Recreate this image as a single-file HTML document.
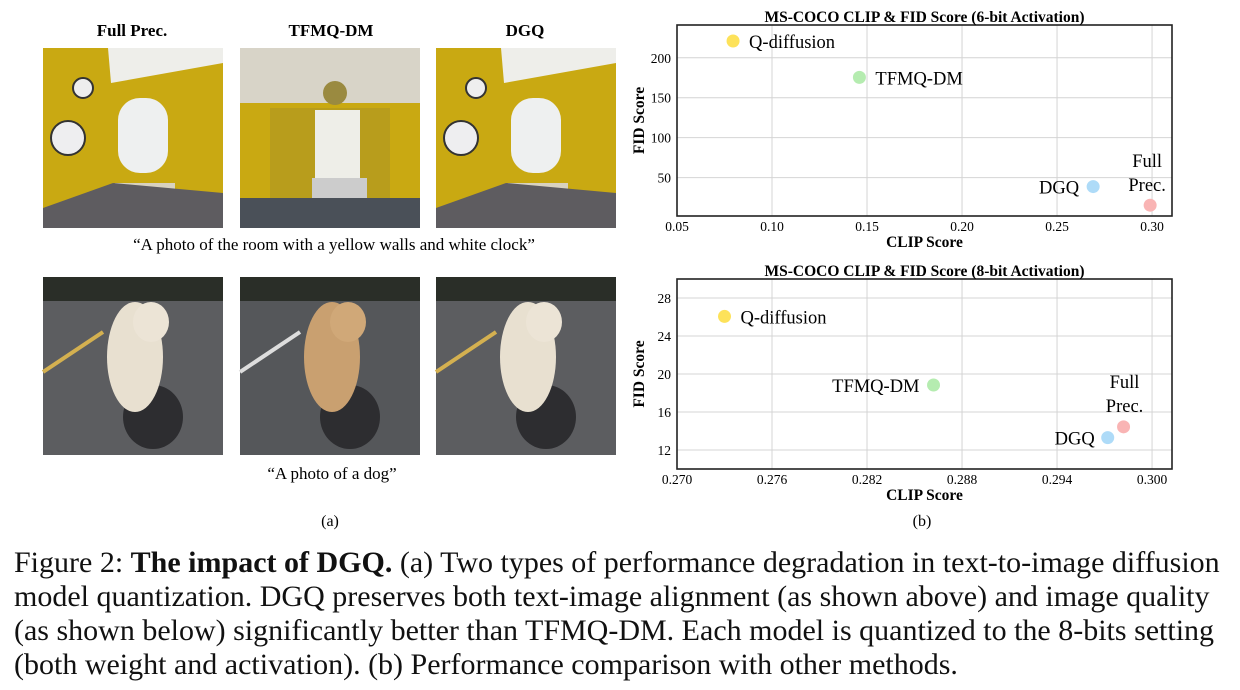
<!DOCTYPE html>
<html><head><meta charset="utf-8"><style>
body{margin:0;background:#fff;width:1240px;height:690px;overflow:hidden;font-family:"Liberation Serif",serif}
svg{position:absolute;left:0;top:0}
.cap{position:absolute;left:14px;top:546px;font-size:30px;line-height:34px;color:#111;white-space:nowrap}
</style></head><body>
<svg width="1240" height="690" font-family="Liberation Serif, serif">
<g id="photos">
 <text x="132" y="36" font-size="17" font-weight="bold" text-anchor="middle">Full Prec.</text>
 <text x="331" y="36" font-size="17" font-weight="bold" text-anchor="middle">TFMQ-DM</text>
 <text x="525" y="36" font-size="17" font-weight="bold" text-anchor="middle">DGQ</text>
 <text x="334" y="250" font-size="17" text-anchor="middle">“A photo of the room with a yellow walls and white clock”</text>
 <text x="332" y="479" font-size="17" text-anchor="middle">“A photo of a dog”</text>
 <text x="330" y="526" font-size="16" text-anchor="middle">(a)</text>
 <text x="922" y="526" font-size="16" text-anchor="middle">(b)</text>
</g>
</svg>
<div class="cap">Figure 2: <b>The impact of DGQ.</b> (a) Two types of performance degradation in text-to-image diffusion<br>model quantization. DGQ preserves both text-image alignment (as shown above) and image quality<br>(as shown below) significantly better than TFMQ-DM. Each model is quantized to the 8-bits setting<br>(both weight and activation). (b) Performance comparison with other methods.</div>
<script>
const NS='http://www.w3.org/2000/svg';
const svg=document.querySelector('svg');
function el(t,a,p){const e=document.createElementNS(NS,t);for(const k in a)e.setAttribute(k,a[k]);(p||svg).appendChild(e);return e;}
const roomX=[43,240,436];
roomX.forEach((x,i)=>{
 const g=el('g',{});
 
 
 const y=48,w=180,h=180;
 el('rect',{x:x,y:y,width:w,height:h,fill:'#c9a912'},g);
 if(i===1){
  el('rect',{x:x,y:y,width:w,height:55,fill:'#d8d4c8'},g);
  el('rect',{x:x+30,y:y+60,width:120,height:90,fill:'#b89d1c'},g);
  el('rect',{x:x+75,y:y+62,width:45,height:70,fill:'#eeeee8'},g);
  el('rect',{x:x+72,y:y+130,width:55,height:22,fill:'#ccc'},g);
  el('rect',{x:x,y:y+150,width:w,height:30,fill:'#4a5058'},g);
  el('circle',{cx:x+95,cy:y+45,r:12,fill:'#9a8a40'},g);
 } else {
  el('polygon',{points:`${x+65},${y} ${x+w},${y} ${x+w},${y+15} ${x+68},${y+35}`,fill:'#eeeeea'},g);
  el('rect',{x:x+75,y:y+50,width:50,height:75,rx:22,fill:'#eef0f0'},g);
  el('rect',{x:x+72,y:y+135,width:60,height:30,fill:'#d8d2c0'},g);
  el('polygon',{points:`${x},${y+h} ${x},${y+160} ${x+70},${y+135} ${x+w},${y+145} ${x+w},${y+h}`,fill:'#5e5c60'},g);
  el('circle',{cx:x+25,cy:y+90,r:17,fill:'#eeeef0',stroke:'#333','stroke-width':2},g);
  el('circle',{cx:x+40,cy:y+40,r:10,fill:'#eee',stroke:'#333','stroke-width':2},g);
 }
});
roomX.forEach((x,i)=>{
 const g=el('g',{});
 
 
 const y=277,w=180,h=178;
 el('rect',{x:x,y:y,width:w,height:h,fill:i===1?'#55575a':'#5c5d60'},g);
 el('rect',{x:x,y:y,width:w,height:24,fill:'#2a2e28'},g);
 el('line',{x1:x,y1:y+95,x2:x+60,y2:y+55,stroke:i===1?'#ddd':'#d4b050','stroke-width':4},g);
 el('ellipse',{cx:x+110,cy:y+140,rx:30,ry:32,fill:'#2d2d30'},g);
 el('ellipse',{cx:x+92,cy:y+80,rx:28,ry:55,fill:i===1?'#c9a070':'#e8e0d0'},g);
 el('ellipse',{cx:x+108,cy:y+45,rx:18,ry:20,fill:i===1?'#d0a878':'#ece4d6'},g);
});
// charts
const methods=['Q-diffusion','TFMQ-DM','DGQ','Full Prec.'];
const colors=['#fde25a','#b5ecb0','#aedbf8','#f9b4b4'];
const clip6=[0.0795,0.146,0.269,0.299];
const fid6=[221,175.5,38.8,15.5];
const clip8=[0.2730,0.2862,0.2972,0.2982];
const fid8=[26.06,18.84,13.3,14.44];
const xt6=[0.05,0.10,0.15,0.20,0.25,0.30];
const yt6=[50,100,150,200];
const xt8=[0.270,0.276,0.282,0.288,0.294,0.300];
const yt8=[12,16,20,24,28];
function chart(o){
 const g=el('g',{});
 
 
 const L=677,R=1172,T=o.top,B=o.bottom;
 const sx=v=>L+(v-o.xd[0])/(o.xd[1]-o.xd[0])*(R-L);
 const sy=v=>B-(v-o.yd[0])/(o.yd[1]-o.yd[0])*(B-T);
 o.xt.forEach(v=>{
  const l=el('line',{x1:sx(v),x2:sx(v),y1:T,y2:B,stroke:'#d4d4d4','stroke-width':1},g);
  
  
  const t=el('text',{x:sx(v),y:B+15,'font-size':13.5,'text-anchor':'middle'},g);
  t.textContent=v.toFixed(o.xf);
  
  
 });
 o.yt.forEach(v=>{
  const l=el('line',{x1:L,x2:R,y1:sy(v),y2:sy(v),stroke:'#d4d4d4','stroke-width':1},g);
  
  
  const t=el('text',{x:L-6,y:sy(v)+5,'font-size':13.5,'text-anchor':'end'},g);
  t.textContent=String(v);
  
  
 });
 const f=el('rect',{x:L,y:T,width:R-L,height:B-T,fill:'none',stroke:'#222','stroke-width':1.6},g);
 
 
 const tt=el('text',{x:(L+R)/2,y:T-3,'font-size':15.5,'font-weight':'bold','text-anchor':'middle'},g);
 tt.textContent=o.title;
 
 
 const xa=el('text',{x:(L+R)/2,y:B+31,'font-size':15.5,'font-weight':'bold','text-anchor':'middle'},g);
 xa.textContent='CLIP Score';
 
 
 const ya=el('text',{x:0,y:0,'font-size':15.5,'font-weight':'bold','text-anchor':'middle',transform:`translate(644,${(T+B)/2}) rotate(-90)`},g);
 ya.textContent='FID Score';
 
 
 o.xs.forEach((v,i)=>{
  const cx=sx(v),cy=sy(o.ys[i]);
  const c=el('circle',{cx:cx,cy:cy,r:6.5,fill:colors[i]},g);
  
  
  const p=o.lab[i];
  const t=el('text',{x:cx+p[0],y:cy+p[1],'font-size':18.5,'text-anchor':p[2]},g);
  
  
  if(methods[i]==='Full Prec.'){
   const a=el('tspan',{x:cx+p[0],dy:0},t);a.textContent='Full';
   const b=el('tspan',{x:cx+p[0],dy:24},t);b.textContent='Prec.';
  } else t.textContent=methods[i];
 });
}
chart({name:'chart-6bit',top:25,bottom:216,xd:[0.05,0.3105],yd:[2,241],xt:xt6,yt:yt6,xf:2,xs:clip6,ys:fid6,
 title:'MS-COCO CLIP & FID Score (6-bit Activation)',
 lab:[[16,7,'start'],[16,7,'start'],[-14,7,'end'],[-3,-38,'middle']]});
chart({name:'chart-8bit',top:279,bottom:469,xd:[0.270,0.30126],yd:[10,30],xt:xt8,yt:yt8,xf:3,xs:clip8,ys:fid8,
 title:'MS-COCO CLIP & FID Score (8-bit Activation)',
 lab:[[16,7,'start'],[-14,7,'end'],[-13,7,'end'],[1,-39,'middle']]});
</script>
</body></html>
